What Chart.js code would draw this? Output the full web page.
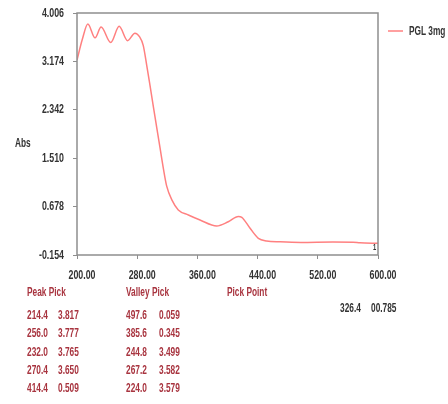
<!DOCTYPE html>
<html>
<head>
<meta charset="utf-8">
<script src="https://cdn.jsdelivr.net/npm/chart.js@4"></script>
<style>
  html, body { margin: 0; padding: 0; background: #fff; }
  #wrap { position: relative; width: 448px; height: 404px; overflow: hidden; }
  #chart { position: absolute; left: 0; top: 0; }
  .t { position: absolute; font-family: "Liberation Sans", Arial, sans-serif; font-weight: bold;
       font-size: 13px; line-height: 13px; white-space: nowrap; color: #333;
       transform: scaleX(0.64); transform-origin: 0 50%; }
  .r { color: #a8343f; }
</style>
</head>
<body>
<div id="wrap">
  <canvas id="chart" width="448" height="404"></canvas>
  <div class="t" style="left:15px; top:136px;">Abs</div>
  <div class="t" style="left:409px; top:24px;">PGL 3mg</div>
  <div class="t" style="left:373px; top:243px; font-size:9px; line-height:9px;">1</div>
  <div id="tables"></div>
</div>
<script>
// spectrum (nm / Abs)
const wavelengths = [200, 207, 214.4, 224, 232, 244.8, 256, 267.2, 277, 283, 288, 292.6, 297, 301.4, 305.9,
  310.3, 314.7, 319.2, 326.4, 334.6, 348, 363.5, 385.6, 401, 414.4, 419, 430, 441, 452, 470,
  497.6, 540, 567, 576, 600];
const absorbance = [3.198, 3.55, 3.817, 3.579, 3.765, 3.499, 3.777, 3.53, 3.66, 3.60, 3.45, 3.112, 2.76, 2.40, 2.04,
  1.69, 1.34, 1.03, 0.785, 0.62, 0.534, 0.448, 0.345, 0.418, 0.509, 0.494, 0.305, 0.133, 0.087, 0.072,
  0.062, 0.068, 0.066, 0.055, 0.047];

const seriesName = 'PGL 3mg';
const xTicks = [200, 280, 360, 440, 520, 600];
const yTicks = [-0.154, 0.678, 1.510, 2.342, 3.174, 4.006];

// pick tables shown under the plot
const peakWl = ['214.4', '256.0', '232.0', '270.4', '414.4'];
const peakAbs = ['3.817', '3.777', '3.765', '3.650', '0.509'];
const valleyWl = ['497.6', '385.6', '244.8', '267.2', '224.0'];
const valleyAbs = ['0.059', '0.345', '3.499', '3.582', '3.579'];
const pickPoint = ['326.4', '00.785'];

const lineColor = '#ff8080';
const axisColor = '#8e8e8e';
const labelColor = '#333';

// tables as plain html text
function buildTables() {
    let html = '';
    html += '<div class="t r" style="left:27px; top:285px;">Peak Pick</div>';
    html += '<div class="t r" style="left:126px; top:285px;">Valley Pick</div>';
    html += '<div class="t r" style="left:227px; top:285px;">Pick Point</div>';
    const rowTop = [308, 326, 345, 363, 381];
    for (let i = 0; i < peakWl.length; i++) {
        html += `<div class="t r" style="left:27px; top:${rowTop[i]}px;">${peakWl[i]}</div>`;
        html += `<div class="t r" style="left:58px; top:${rowTop[i]}px;">${peakAbs[i]}</div>`;
        html += `<div class="t r" style="left:126px; top:${rowTop[i]}px;">${valleyWl[i]}</div>`;
        html += `<div class="t r" style="left:159px; top:${rowTop[i]}px;">${valleyAbs[i]}</div>`;
    }
    html += `<div class="t" style="left:340px; top:301px;">${pickPoint[0]}</div>`;
    html += `<div class="t" style="left:371px; top:301px;">${pickPoint[1]}</div>`;
    document.getElementById('tables').innerHTML = html;
}
buildTables();

// narrow tick labels, placed with the chart's own scales
function narrowText(ctx, text, x, y, align) {
    ctx.save();
    ctx.translate(x, y);
    ctx.scale(0.68, 1);
    ctx.textAlign = align;
    ctx.textBaseline = 'middle';
    ctx.fillText(text, 0, 0);
    ctx.restore();
}

const framePlugin = {
    id: 'frame',
    afterDraw(chart) {
        const { ctx, chartArea: a } = chart;
        const xs = chart.scales.x, ys = chart.scales.y;
        ctx.save();
        // box round the plot
        ctx.strokeStyle = axisColor;
        ctx.lineWidth = 1.5;
        ctx.strokeRect(a.left, a.top, a.right - a.left, a.bottom - a.top);
        // legend swatch
        ctx.strokeStyle = lineColor;
        ctx.beginPath();
        ctx.moveTo(388, 31);
        ctx.lineTo(403, 31);
        ctx.stroke();
        // tick labels
        ctx.fillStyle = labelColor;
        ctx.font = 'bold 13px "Liberation Sans", Arial, sans-serif';
        xTicks.forEach(v => narrowText(ctx, v.toFixed(2), xs.getPixelForValue(v) + 5, a.bottom + 20, 'center'));
        yTicks.forEach(v => narrowText(ctx, v.toFixed(3), a.left - 13, ys.getPixelForValue(v), 'right'));
        ctx.restore();
    }
};

const points = wavelengths.map((w, i) => ({ x: w, y: absorbance[i] }));

new Chart(document.getElementById('chart'), {
    type: 'line',
    data: {
        datasets: [{
            label: seriesName,
            data: points,
            borderColor: lineColor,
            borderWidth: 1.5,
            pointRadius: 0,
            fill: false,
            cubicInterpolationMode: 'monotone'
        }]
    },
    options: {
        responsive: false,
        animation: false,
        layout: { padding: { top: 13, right: 70, left: 0, bottom: 0 } },
        plugins: { legend: { display: false }, tooltip: { enabled: false } },
        scales: {
            x: {
                type: 'linear',
                min: 200,
                max: 600,
                afterBuildTicks: s => { s.ticks = xTicks.map(v => ({ value: v })); },
                afterFit: s => { s.height = 149; },
                border: { display: false },
                grid: { display: true, drawOnChartArea: false, tickLength: 4, color: axisColor },
                ticks: { color: 'rgba(0,0,0,0)', maxRotation: 0 }
            },
            y: {
                min: -0.154,
                max: 4.006,
                afterBuildTicks: s => { s.ticks = yTicks.map(v => ({ value: v })); },
                afterFit: s => { s.width = 77; },
                border: { display: false },
                grid: { display: true, drawOnChartArea: false, tickLength: 4, color: axisColor },
                ticks: { color: 'rgba(0,0,0,0)' }
            }
        }
    },
    plugins: [framePlugin]
});
</script>
</body>
</html>
